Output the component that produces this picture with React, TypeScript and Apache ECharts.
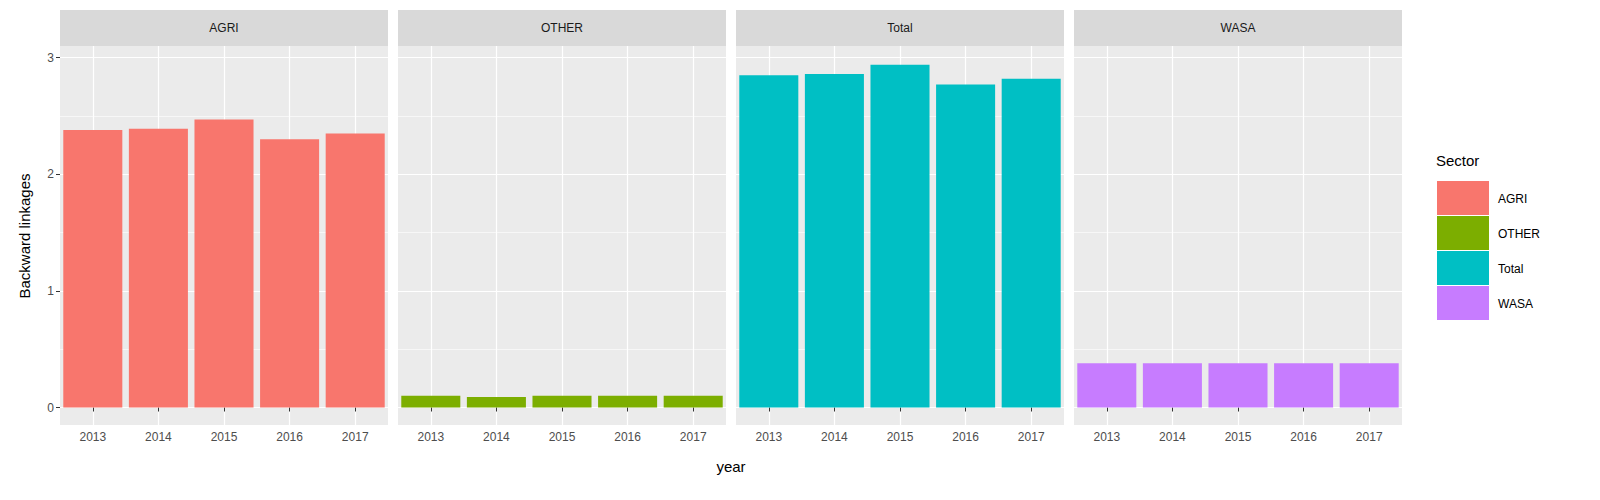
import React, { useEffect, useRef } from "react";
import * as echarts from "echarts";

const years = ["2013", "2014", "2015", "2016", "2017"];
const sectors = ["AGRI", "OTHER", "Total", "WASA"];
const colors = ["#F8766D", "#7CAE00", "#00BFC4", "#C77CFF"];
const agri = [2.38, 2.39, 2.47, 2.30, 2.35];
const other = [0.10, 0.09, 0.10, 0.10, 0.10];
const total = [2.85, 2.86, 2.94, 2.77, 2.82];
const wasa = [0.38, 0.38, 0.38, 0.38, 0.38];
const values = [agri, other, total, wasa];
const majorY = [0, 1, 2, 3];
const minorY = [0.5, 1.5, 2.5];

export default function App() {
  const ref = useRef<HTMLDivElement>(null);
  useEffect(() => {
    document.body.style.margin = "0";
    document.body.style.overflow = "hidden";
    document.documentElement.style.overflow = "hidden";
    const chart = echarts.init(ref.current!, undefined, { renderer: "svg" });
    const left0 = 60, pw = 328, gap = 10, top = 46, h = 379;
    const font = "Liberation Sans, Arial, sans-serif";
    const grids: any[] = [], xAxes: any[] = [], yAxes: any[] = [], series: any[] = [], graphics: any[] = [];
    sectors.forEach((s, i) => {
      const left = left0 + i * (pw + gap);
      grids.push({ left, top, width: pw, height: h, show: true, backgroundColor: "#EBEBEB", borderWidth: 0 });
      xAxes.push({
        type: "category", gridIndex: i, data: years,
        axisLine: { show: false },
        axisTick: { show: true, alignWithLabel: true, length: 4, lineStyle: { color: "#333333" } },
        axisLabel: { color: "#4D4D4D", fontSize: 12, fontFamily: font, margin: 6 },
        splitLine: { show: false },
      });
      yAxes.push({
        type: "value", gridIndex: i, min: -0.15, max: 3.1,
        axisLine: { show: false },
        axisTick: { show: i === 0, length: 4, customValues: majorY, lineStyle: { color: "#333333" } },
        axisLabel: { show: i === 0, customValues: majorY, color: "#4D4D4D", fontSize: 12, fontFamily: font, margin: 6 },
        splitLine: { show: false },
      });
      series.push({
        type: "line", xAxisIndex: i, yAxisIndex: i, data: [], z: 0, zlevel: 0,
        markLine: {
          silent: true, symbol: "none", label: { show: false }, animation: false, z: 0,
          data: [
            ...minorY.map((v) => ({ yAxis: v, lineStyle: { color: "#FFFFFF", width: 0.6, type: "solid" } })),
            ...majorY.map((v) => ({ yAxis: v, lineStyle: { color: "#FFFFFF", width: 1.2, type: "solid" } })),
            ...years.map((y) => ({ xAxis: y, lineStyle: { color: "#FFFFFF", width: 1.2, type: "solid" } })),
          ],
        },
      });
      series.push({
        type: "bar", xAxisIndex: i, yAxisIndex: i, data: values[i], z: 10,
        barCategoryGap: "10%", itemStyle: { color: colors[i] },
      });
      graphics.push({ type: "rect", shape: { x: left, y: 10, width: pw, height: 36 }, style: { fill: "#D9D9D9" } });
      graphics.push({
        type: "text", x: left + pw / 2, y: 28,
        style: { text: s, fill: "#1A1A1A", font: `12px ${font}`, align: "center", verticalAlign: "middle" },
      });
    });
    graphics.push({
      type: "text", x: 731, y: 466,
      style: { text: "year", fill: "#000", font: `15px ${font}`, align: "center", verticalAlign: "middle" },
    });
    graphics.push({
      type: "text", x: 24, y: 236, rotation: Math.PI / 2,
      style: { text: "Backward linkages", fill: "#000", font: `15px ${font}`, align: "center", verticalAlign: "middle" },
    });
    graphics.push({
      type: "text", x: 1436, y: 160,
      style: { text: "Sector", fill: "#000", font: `15px ${font}`, align: "left", verticalAlign: "middle" },
    });
    sectors.forEach((s, i) => {
      const y = 181 + i * 35;
      graphics.push({ type: "rect", shape: { x: 1437, y, width: 52, height: 34 }, style: { fill: colors[i] } });
      graphics.push({
        type: "text", x: 1498, y: y + 18,
        style: { text: s, fill: "#000", font: `12px ${font}`, align: "left", verticalAlign: "middle" },
      });
    });
    chart.setOption({
      animation: false,
      backgroundColor: "#FFFFFF",
      grid: grids, xAxis: xAxes, yAxis: yAxes, series, graphic: graphics,
    });
    return () => chart.dispose();
  }, []);
  return <div ref={ref} style={{ width: 1600, height: 500, display: "block" }} />;
}
